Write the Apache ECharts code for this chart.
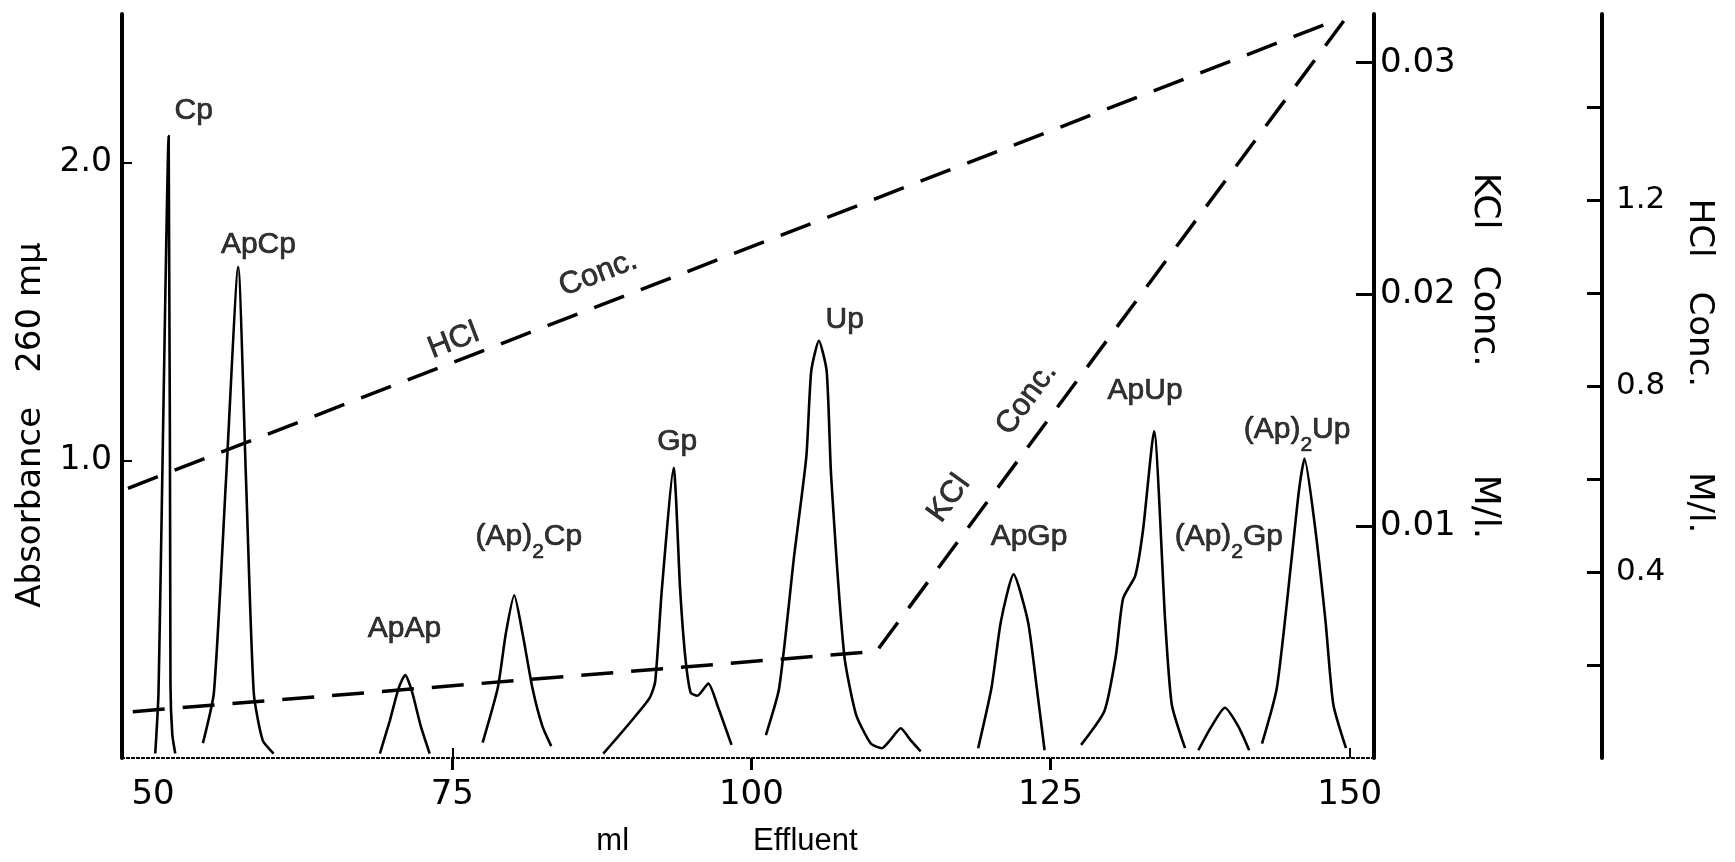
<!DOCTYPE html>
<html>
<head>
<meta charset="utf-8">
<script src="https://cdn.jsdelivr.net/npm/echarts@6/dist/echarts.min.js"></script>
<style>
  html, body { margin: 0; padding: 0; background: #fff; }
  #chart { width: 1735px; height: 862px; }
</style>
</head>
<body>
<div id="chart"></div>
<script>
// absorbance at 260 mu, one trace per peak: [ml effluent, absorbance]
var cpTrace = [[50.18, 0.015], [50.45, 0.22], [51.3, 2.09], [51.45, 0.25], [51.6, 0.08], [51.85, 0.015]];
var apcpTrace = [[54.16, 0.05], [55.08, 0.22], [56.1, 0.94], [57.11, 1.65], [57.76, 0.94], [58.41, 0.22], [59.15, 0.06], [60.07, 0.015]];
var apapTrace = [[68.95, 0.015], [69.78, 0.125], [70.52, 0.235], [71.07, 0.279], [71.63, 0.224], [72.37, 0.107], [73.11, 0.015]];
var ap2cpTrace = [[77.54, 0.052], [78.8, 0.235], [79.48, 0.419], [80.18, 0.547], [80.87, 0.419], [81.7, 0.235], [82.53, 0.107], [83.27, 0.04]];
var gpTrace = [[87.62, 0.015], [88.82, 0.07], [90.21, 0.136], [91.5, 0.202], [91.96, 0.257], [92.52, 0.569], [93.5, 0.975], [94.04, 0.569], [94.46, 0.345], [94.92, 0.22], [95.48, 0.209], [96.4, 0.25], [97.23, 0.169], [98.34, 0.044]];
var upTrace = [[101.21, 0.077], [102.32, 0.235], [103.57, 0.679], [104.59, 1.013], [105.0, 1.3], [105.64, 1.402], [106.29, 1.3], [106.66, 0.95], [107.76, 0.345], [108.74, 0.147], [109.99, 0.048], [110.91, 0.033], [111.6, 0.06], [112.48, 0.1], [113.3, 0.06], [114.15, 0.022]];
var apgpTrace = [[118.95, 0.033], [120.06, 0.235], [120.85, 0.459], [121.91, 0.617], [123.11, 0.459], [123.85, 0.235], [124.5, 0.026]];
var apupTrace = [[127.55, 0.044], [129.5, 0.158], [130.46, 0.345], [131.06, 0.536], [132.08, 0.613], [132.73, 0.767], [133.65, 1.098], [134.58, 0.459], [135.13, 0.18], [136.24, 0.033]];
var ap2gpTrace = [[137.35, 0.026], [138.46, 0.107], [139.57, 0.169], [140.68, 0.107], [141.6, 0.026]];
var ap2upTrace = [[142.67, 0.048], [143.91, 0.235], [145.17, 0.679], [145.76, 0.899], [146.22, 1.006], [147.06, 0.79], [147.98, 0.459], [148.63, 0.18], [149.69, 0.033]];

// gradients: [ml, M/l]
var hclLine = [[47.9, 0.58], [149.2, 1.59]];
var kclLine = [[48.3, 0.0020], [110.45, 0.0046], [149.5, 0.0318]];

// peak names placed at [ml, absorbance]
var peakLabels = [
  ['{t|Cp}', 53.4, 2.17],
  ['{t|ApCp}', 58.8, 1.72],
  ['{t|ApAp}', 71.0, 0.43],
  ['{t|(Ap)}{s|2}{t|Cp}', 81.4, 0.74],
  ['{t|Gp}', 93.8, 1.06],
  ['{t|Up}', 107.8, 1.47],
  ['{t|ApGp}', 123.2, 0.74],
  ['{t|ApUp}', 132.9, 1.23],
  ['{t|(Ap)}{s|2}{t|Gp}', 139.9, 0.74],
  ['{t|(Ap)}{s|2}{t|Up}', 145.6, 1.10]
];
var hclText = [['HCl', 75.1, 0.897], ['Conc.', 87.2, 1.042]];
var kclText = [['KCl', 116.5, 0.0112], ['Conc.', 123.0, 0.0155]];

var xTicks = [50, 75, 100, 125, 150];
var absTicks = [1.0, 2.0];
var kclTicks = [0.01, 0.02, 0.03];
var hclTicks = [0.2, 0.4, 0.6, 0.8, 1.0, 1.2, 1.4];
var hclTickLabels = [0.4, 0.8, 1.2];

var numFont = 'DejaVu Sans';
var textFont = 'Liberation Sans';

var traces = [cpTrace, apcpTrace, apapTrace, ap2cpTrace, gpTrace, upTrace, apgpTrace, apupTrace, ap2gpTrace, ap2upTrace];
var series = traces.map(function (t) {
  return {
    type: 'line', xAxisIndex: 0, yAxisIndex: 0, data: t,
    smooth: 0.2, showSymbol: false, silent: true,
    lineStyle: { color: '#000', width: 2.6 }
  };
});
series.push({
  type: 'line', yAxisIndex: 2, data: hclLine, showSymbol: false, silent: true,
  lineStyle: { color: '#000', width: 3.5, type: [32, 18] }
});
series.push({
  type: 'line', yAxisIndex: 1, data: kclLine, showSymbol: false, silent: true,
  lineStyle: { color: '#000', width: 3.5, type: [32, 18] }
});
var lettering = { color: '#000', textBorderColor: '#000', textBorderWidth: 0.7 };
series.push({
  type: 'scatter', yAxisIndex: 0, symbolSize: 1, itemStyle: { color: 'rgba(0,0,0,0)' },
  data: peakLabels.map(function (p) { return { value: [p[1], p[2]], name: p[0] }; }),
  label: {
    show: true, position: 'inside', formatter: function (p) { return p.name; },
    rich: {
      t: Object.assign({ fontFamily: textFont, fontSize: 30, lineHeight: 32, verticalAlign: 'top' }, lettering),
      s: Object.assign({ fontFamily: textFont, fontSize: 21, lineHeight: 21, padding: [20, 0, 0, 0], verticalAlign: 'top' }, lettering)
    }
  }
});
series.push({
  type: 'scatter', yAxisIndex: 2, symbolSize: 1, itemStyle: { color: 'rgba(0,0,0,0)' },
  data: hclText.map(function (p) { return { value: [p[1], p[2]], name: p[0] }; }),
  label: Object.assign({ show: true, position: 'inside', rotate: 21, formatter: function (p) { return p.name; },
    fontFamily: textFont, fontSize: 31 }, lettering)
});
series.push({
  type: 'scatter', yAxisIndex: 1, symbolSize: 1, itemStyle: { color: 'rgba(0,0,0,0)' },
  data: kclText.map(function (p) { return { value: [p[1], p[2]], name: p[0] }; }),
  label: Object.assign({ show: true, position: 'inside', rotate: 54, formatter: function (p) { return p.name; },
    fontFamily: textFont, fontSize: 31 }, lettering)
});

var chart = echarts.init(document.getElementById('chart'));
chart.setOption({
  backgroundColor: '#fff',
  animation: false,
  grid: { left: 122, right: 361, top: 14, bottom: 87 },
  xAxis: [
    {
      type: 'value', position: 'bottom', min: 47.4, max: 152.03,
      name: 'ml\u2003\u2003\u2003\u2003Effluent', nameLocation: 'middle', nameGap: 68,
      nameTextStyle: { fontFamily: textFont, fontSize: 31, color: '#000', padding: [0, 42, 0, 0] },
      axisLine: { lineStyle: { color: '#000', width: 2, type: [2, 3] } },
      axisTick: { inside: true, length: 10, customValues: [75, 150], lineStyle: { color: '#000', width: 2 } },
      axisLabel: { customValues: xTicks, margin: 20, fontFamily: numFont, fontSize: 34, color: '#000' },
      splitLine: { show: false }
    },
    {
      type: 'value', position: 'top', min: 47.4, max: 152.03,
      axisLine: { lineStyle: { color: '#000', width: 2, type: [2, 3] } },
      axisTick: { inside: true, length: 12, customValues: [75, 100, 125], lineStyle: { color: '#000', width: 3 } },
      axisLabel: { show: false },
      splitLine: { show: false }
    }
  ],
  yAxis: [
    {
      type: 'value', position: 'left', min: 0, max: 2.5,
      name: 'Absorbance\u2003260 m\u03bc', nameLocation: 'middle', nameGap: 72, nameRotate: 90,
      nameTextStyle: { fontFamily: numFont, fontSize: 34, color: '#000', padding: [0, 78, 0, 0] },
      axisLine: { show: true, lineStyle: { color: '#000', width: 4 } },
      axisTick: { show: true, inside: true, length: 10, customValues: absTicks, lineStyle: { color: '#000', width: 2 } },
      axisLabel: { customValues: absTicks, margin: 10, fontFamily: numFont, fontSize: 33, color: '#000',
        formatter: function (v) { return v.toFixed(1); } },
      splitLine: { show: false }
    },
    {
      type: 'value', position: 'right', min: 0, max: 0.0321,
      name: 'KCl\u2003Conc.\u2003\u2003\u2003M/l.', nameLocation: 'middle', nameGap: 70, nameRotate: -90,
      nameTextStyle: { fontFamily: numFont, fontSize: 36, color: '#000', padding: [0, 60, 0, 0] },
      axisLine: { show: true, lineStyle: { color: '#000', width: 4 } },
      axisTick: { show: true, inside: true, length: 18, customValues: kclTicks, lineStyle: { color: '#000', width: 3 } },
      axisLabel: { customValues: kclTicks, margin: 6, fontFamily: numFont, fontSize: 34, color: '#000',
        formatter: function (v) { return v.toFixed(2); } },
      splitLine: { show: false }
    },
    {
      type: 'value', position: 'right', offset: 228, min: 0, max: 1.6,
      name: 'HCl\u2003Conc.\u2003\u2003\u2002M/l.', nameLocation: 'middle', nameGap: 80, nameRotate: -90,
      nameTextStyle: { fontFamily: numFont, fontSize: 34, color: '#000', padding: [0, 40, 0, 0] },
      axisLine: { show: true, lineStyle: { color: '#000', width: 4 } },
      axisTick: { show: true, inside: true, length: 15, customValues: hclTicks, lineStyle: { color: '#000', width: 3 } },
      axisLabel: { customValues: hclTickLabels, margin: 14, fontFamily: numFont, fontSize: 31, color: '#000',
        formatter: function (v) { return v.toFixed(1); } },
      splitLine: { show: false }
    }
  ],
  series: series
});
</script>
</body>
</html>
